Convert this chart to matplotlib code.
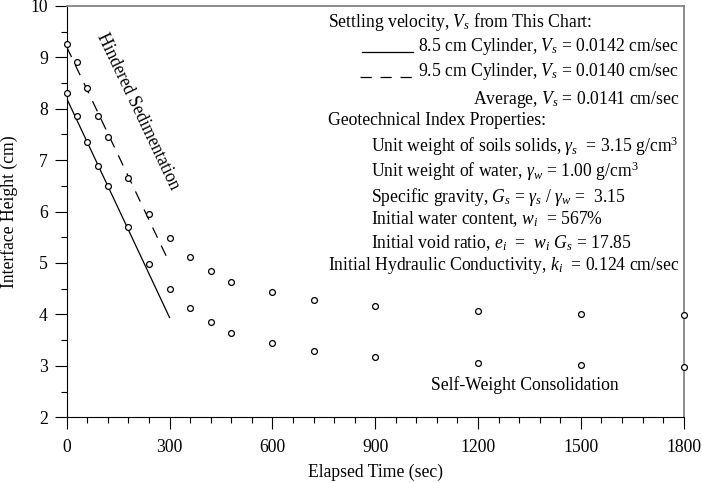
import matplotlib
matplotlib.use("Agg")
import matplotlib.pyplot as plt
from matplotlib.ticker import MultipleLocator
import numpy as np

plt.rcParams['font.family'] = ['Liberation Serif', 'DejaVu Serif']
plt.rcParams['mathtext.fontset'] = 'custom'
plt.rcParams['mathtext.rm'] = 'Liberation Serif'
plt.rcParams['mathtext.it'] = 'Liberation Serif:italic'

# Data
time_s = [0, 30, 60, 90, 120, 180, 240, 300, 360, 420, 480, 600, 720, 900, 1200, 1500, 1800]
height_95cm = [9.25, 8.90, 8.40, 7.85, 7.45, 6.65, 5.95, 5.49, 5.12, 4.84, 4.64, 4.43, 4.28, 4.17, 4.07, 4.01, 3.99]
height_85cm = [8.30, 7.85, 7.35, 6.89, 6.50, 5.70, 4.99, 4.50, 4.13, 3.85, 3.64, 3.44, 3.28, 3.17, 3.06, 3.01, 2.97]

# Hindered sedimentation fit lines
fit_time = [0, 300]
fit_intercept_85 = 8.2
fit_velocity_85 = 0.0142
fit_intercept_95 = 9.2
fit_velocity_95 = 0.0140

x_ticks = [0, 300, 600, 900, 1200, 1500, 1800]
y_ticks = [2, 3, 4, 5, 6, 7, 8, 9, 10]

fig = plt.figure(figsize=(7.02, 4.83), dpi=100)
ax = fig.add_axes([0.095, 0.136, 0.879, 0.852])

fs = 12.7

t = np.array(fit_time)
ax.plot(t, fit_intercept_85 - fit_velocity_85 * t, color='black', lw=0.9)
ax.plot(t, fit_intercept_95 - fit_velocity_95 * t, color='black', lw=0.9, dashes=(9, 7))

ax.plot(time_s, height_95cm, 'o', ms=4.2, mfc='white', mec='black', mew=0.9, zorder=3, clip_on=False)
ax.plot(time_s, height_85cm, 'o', ms=4.2, mfc='white', mec='black', mew=0.9, zorder=3, clip_on=False)

ax.set_xlim(0, 1800)
ax.set_ylim(2, 10)
ax.set_xticks(x_ticks)
ax.set_yticks(y_ticks)
ax.xaxis.set_minor_locator(MultipleLocator(60))
ax.yaxis.set_minor_locator(MultipleLocator(0.5))
ax.tick_params(which='major', direction='out', length=8.5, width=0.8, labelsize=fs, pad=7)
ax.tick_params(which='minor', direction='out', length=4, width=0.8)
ax.tick_params(axis='y', pad=5)

for s in ['top', 'right']:
    ax.spines[s].set_color('#7a7a7a')
    ax.spines[s].set_linewidth(1.2)
for s in ['left', 'bottom']:
    ax.spines[s].set_color('black')
    ax.spines[s].set_linewidth(0.8)

ax.set_xlabel('Elapsed Time (sec)', fontsize=fs, labelpad=6)
ax.set_ylabel('Interface Height (cm)', fontsize=fs, labelpad=9)

# Annotations
ax.text(207, 7.94, 'Hindered Sedimentation', fontsize=fs, rotation=-64.5,
        ha='center', va='center', rotation_mode='anchor')
ax.text(1337, 2.63, 'Self-Weight Consolidation', fontsize=fs, ha='center', va='center')

tr = ax.transAxes
def px(xp, yp):
    # convert figure pixel (from top-left) to axes fraction
    xf = (xp - 66.7) / (683.7 - 66.7)
    yf = (417.3 - yp) / (417.3 - 6)
    return xf, yf

right_x = 679
left_a = 328
left_b = 371

lines = [
    (left_a, 22, 'left', r'Settling velocity, $V_s$ from This Chart:'),
    (right_x, 47, 'right', r'8.5 cm Cylinder, $V_s$ = 0.0142 cm/sec'),
    (right_x, 72, 'right', r'9.5 cm Cylinder, $V_s$ = 0.0140 cm/sec'),
    (right_x, 100, 'right', r'Average, $V_s$ = 0.0141 cm/sec'),
    (left_a, 121, 'left', 'Geotechnical Index Properties:'),
    (left_b, 146, 'left', r'Unit weight of soils solids, $\gamma_s$  = 3.15 g/cm$^3$'),
    (left_b, 171, 'left', r'Unit weight of water, $\gamma_w$ = 1.00 g/cm$^3$'),
    (left_b, 197, 'left', r'Specific gravity, $G_s$ = $\gamma_s$ / $\gamma_w$ =  3.15'),
    (left_b, 219, 'left', r'Initial water content, $w_i$  = 567%'),
    (left_b, 243, 'left', r'Initial void ratio, $e_i$  =  $w_i$ $G_s$ = 17.85'),
    (left_a, 266, 'left', r'Initial Hydraulic Conductivity, $k_i$  = 0.124 cm/sec'),
]
for xp, yp, ha, s in lines:
    xf, yf = px(xp, yp)
    ax.text(xf, yf, s, transform=tr, fontsize=fs, ha=ha, va='center')

# legend line samples
x1, y1 = px(362, 52)
x2, _ = px(413, 52)
ax.plot([x1, x2], [y1, y1], transform=tr, color='black', lw=0.9, clip_on=False)
x1, y1 = px(360, 77)
x2, _ = px(413, 77)
ax.plot([x1, x2], [y1, y1], transform=tr, color='black', lw=0.9, dashes=(9, 7), clip_on=False)

fig.savefig('out.png', dpi=100)
